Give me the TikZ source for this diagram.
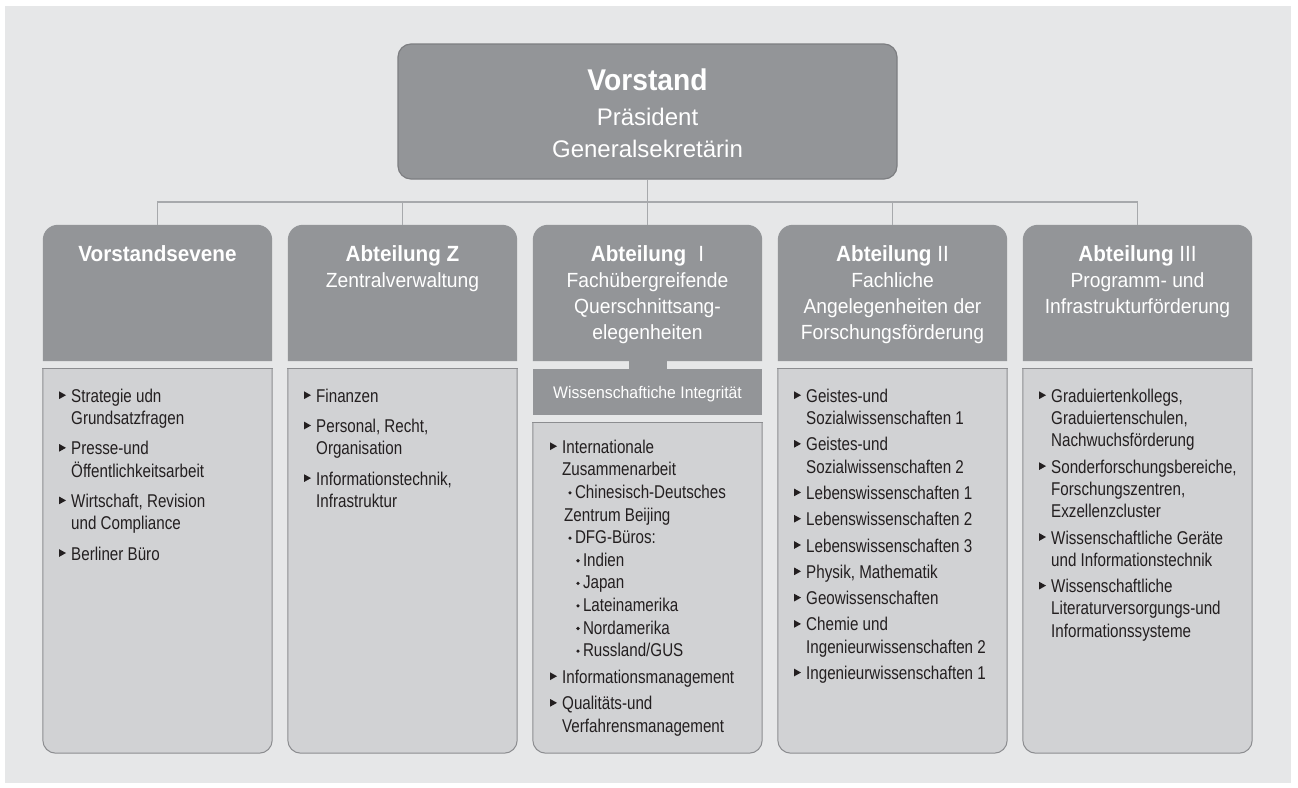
\documentclass[tikz,border=0pt]{standalone}
\usepackage{fontspec}
\usepackage{xcolor}
\setmainfont{Liberation Sans}
\newfontfamily\headfont[FakeStretch=0.94]{Liberation Sans}
\newfontfamily\bodyfont[FakeStretch=0.82]{Liberation Sans}
\usetikzlibrary{positioning}

\definecolor{bggray}{HTML}{E6E7E8}
\definecolor{boxgray}{HTML}{939598}
\definecolor{boxline}{HTML}{7D7E81}
\definecolor{bodygray}{HTML}{D1D2D4}
\definecolor{bodyline}{HTML}{8C8D90}
\definecolor{linkgray}{HTML}{A7A9AC}
\definecolor{inkgray}{HTML}{231F20}

\newcommand{\tri}{\llap{\tikz[x=1pt,y=1pt,baseline=0pt]\fill[inkgray] (0,3.2) -- (0,10.8) -- (6.8,7) -- cycle;\hspace{5.2pt}}}
\newcommand{\dotb}{\tikz[x=1pt,y=1pt,baseline=0pt]\fill[inkgray] (1.8,5.5) circle (1.8);\hspace{3.2pt}}

\tikzset{
  topbox/.style={draw=boxline, line width=1.2pt, fill=boxgray, rounded corners=13pt,
    minimum width=499pt, minimum height=135pt, inner sep=0pt},
  headbox/.style={minimum width=229pt, minimum height=136pt, inner sep=0pt},
  headfill/.style={fill=boxgray, rounded corners=15pt},
  bodybox/.style={minimum width=229pt, inner sep=0pt},
  bodyfill/.style={draw=bodyline, line width=1pt, fill=bodygray, rounded corners=13pt},
  bodytop/.style={draw=bodyline, line width=1pt, line cap=rect},
  wibox/.style={fill=boxgray, minimum width=229pt, minimum height=46pt, inner sep=0pt,
    text=white, text height=12pt, text depth=0pt,
    font=\headfont\fontsize{16.8}{20}\selectfont},
  toptitle/.style={font=\headfont\bfseries\fontsize{30}{36}\selectfont, text=white,
    anchor=base, inner sep=0pt},
  topsub/.style={font=\fontsize{24}{32}\selectfont, text=white, align=center,
    anchor=north, inner sep=0pt},
  headtitle/.style={font=\headfont\bfseries\fontsize{22}{26}\selectfont, text=white,
    anchor=base, inner sep=0pt},
  headsub/.style={font=\headfont\fontsize{20.5}{26}\selectfont, text=white,
    align=center, anchor=north, inner sep=0pt},
  bodytext/.style={font=\bodyfont\fontsize{18.5}{22.3}\selectfont, text=inkgray,
    align=left, anchor=north west, inner sep=0pt},
  link/.style={draw=linkgray, line width=1.2pt}
}

\begin{document}
\begin{tikzpicture}[x=1pt,y=-1pt]
\useasboundingbox (0,0) rectangle (1298,787);
\fill[white] (0,0) rectangle (1298,787);
\fill[bggray] (5,6) rectangle (1291,783);

% Vorstand
\node[topbox] (vorstand) at (647.5,111.5) {};
\node[toptitle] (vtitle) at (647.5,90) {Vorstand};
\node[topsub] (vsub) at (647.5,102.6) {\strut Präsident\\ Generalsekretärin};

% header boxes, rounded on top only
\node[headbox] (h1) at (157.5,293) {};
\node[headbox] (h2) at (402.5,293) {};
\node[headbox] (h3) at (647.5,293) {};
\node[headbox] (h4) at (892.5,293) {};
\node[headbox] (h5) at (1137.5,293) {};
\fill[headfill] (h1.south west) -- (h1.north west) -- (h1.north east) -- (h1.south east);
\fill[headfill] (h2.south west) -- (h2.north west) -- (h2.north east) -- (h2.south east);
\fill[headfill] (h3.south west) -- (h3.north west) -- (h3.north east) -- (h3.south east);
\fill[headfill] (h4.south west) -- (h4.north west) -- (h4.north east) -- (h4.south east);
\fill[headfill] (h5.south west) -- (h5.north west) -- (h5.north east) -- (h5.south east);

% connectors
\coordinate (bus) at (647.5,202);
\draw[link] (vorstand.south) -- (h3.north);
\draw[link] (h1.north) |- (bus) -| (h5.north);
\draw[link] (h2.north) -- (h2.north |- bus);
\draw[link] (h4.north) -- (h4.north |- bus);

% header texts
\node[headtitle] (t1) at (157.5,261) {Vorstandsevene};
\node[headtitle] (t2) at (402.5,261) {Abteilung Z};
\node[headsub] (s2) at (402.5,268.8) {\strut Zentralverwaltung};
\node[headtitle] (t3) at (647.5,261) {Abteilung\hspace{0.55em}\textmd{I}};
\node[headsub] (s3) at (647.5,268.8) {\strut Fachübergreifende\\ Querschnittsang-\\ elegenheiten};
\node[headtitle] (t4) at (892.5,261) {Abteilung \textmd{II}};
\node[headsub] (s4) at (892.5,268.8) {\strut Fachliche\\ Angelegenheiten der\\ Forschungsförderung};
\node[headtitle] (t5) at (1137.5,261) {Abteilung \textmd{III}};
\node[headsub] (s5) at (1137.5,268.8) {\strut Programm- und\\ Infrastrukturförderung};

% Abteilung I: Wissenschaftliche Integritaet
\fill[boxgray] (629,358) rectangle (667,372);
\node[wibox] (wi) at (647.5,392) {Wissenschaftiche Integrität};

% body boxes, rounded at the bottom only
\node[bodybox, minimum height=384pt] (b1) at (157.5,561) {};
\node[bodybox, minimum height=384pt] (b2) at (402.5,561) {};
\node[bodybox, minimum height=330pt] (b3) at (647.5,588) {};
\node[bodybox, minimum height=384pt] (b4) at (892.5,561) {};
\node[bodybox, minimum height=384pt] (b5) at (1137.5,561) {};
\filldraw[bodyfill] (b1.north west) -- (b1.south west) -- (b1.south east) -- (b1.north east);
\filldraw[bodyfill] (b2.north west) -- (b2.south west) -- (b2.south east) -- (b2.north east);
\filldraw[bodyfill] (b3.north west) -- (b3.south west) -- (b3.south east) -- (b3.north east);
\filldraw[bodyfill] (b4.north west) -- (b4.south west) -- (b4.south east) -- (b4.north east);
\filldraw[bodyfill] (b5.north west) -- (b5.south west) -- (b5.south east) -- (b5.north east);
\draw[bodytop] (b1.north west) -- (b1.north east);
\draw[bodytop] (b2.north west) -- (b2.north east);
\draw[bodytop] (b3.north west) -- (b3.north east);
\draw[bodytop] (b4.north west) -- (b4.north east);
\draw[bodytop] (b5.north west) -- (b5.north east);

% body texts
\node[bodytext] (l1) at (71,386.4) {\strut\tri Strategie udn\\ Grundsatzfragen\\[8pt]
  \tri Presse-und\\ Öffentlichkeitsarbeit\\[8pt]
  \tri Wirtschaft, Revision\\ und Compliance\\[8pt]
  \tri Berliner Büro};
\node[bodytext] (l2) at (316,386.4) {\strut\tri Finanzen\\[8pt]
  \tri Personal, Recht,\\ Organisation\\[8pt]
  \tri Informationstechnik,\\ Infrastruktur};
\node[bodytext, font=\bodyfont\fontsize{18.5}{22.6}\selectfont] (l3) at (562,437.2)
  {\strut\tri Internationale\\ Zusammenarbeit\\
  \hspace*{6pt}\dotb Chinesisch-Deutsches\\
  \hspace*{2pt}Zentrum Beijing\\
  \hspace*{6pt}\dotb DFG-Büros:\\
  \hspace*{14pt}\dotb Indien\\
  \hspace*{14pt}\dotb Japan\\
  \hspace*{14pt}\dotb Lateinamerika\\
  \hspace*{14pt}\dotb Nordamerika\\
  \hspace*{14pt}\dotb Russland/GUS\\[4pt]
  \tri Informationsmanagement\\[4pt]
  \tri Qualitäts-und\\ Verfahrensmanagement};
\node[bodytext] (l4) at (806,386.4) {\strut\tri Geistes-und\\ Sozialwissenschaften 1\\[4pt]
  \tri Geistes-und\\ Sozialwissenschaften 2\\[4pt]
  \tri Lebenswissenschaften 1\\[4pt]
  \tri Lebenswissenschaften 2\\[4pt]
  \tri Lebenswissenschaften 3\\[4pt]
  \tri Physik, Mathematik\\[4pt]
  \tri Geowissenschaften\\[4pt]
  \tri Chemie und\\ Ingenieurwissenschaften 2\\[4pt]
  \tri Ingenieurwissenschaften 1};
\node[bodytext] (l5) at (1051,386.4) {\strut\tri Graduiertenkollegs,\\ Graduiertenschulen,\\ Nachwuchsförderung\\[4pt]
  \tri Sonderforschungsbereiche,\\ Forschungszentren,\\ Exzellenzcluster\\[4pt]
  \tri Wissenschaftliche Geräte\\ und Informationstechnik\\[4pt]
  \tri Wissenschaftliche\\ Literaturversorgungs-und\\ Informationssysteme};
\end{tikzpicture}
\end{document}
